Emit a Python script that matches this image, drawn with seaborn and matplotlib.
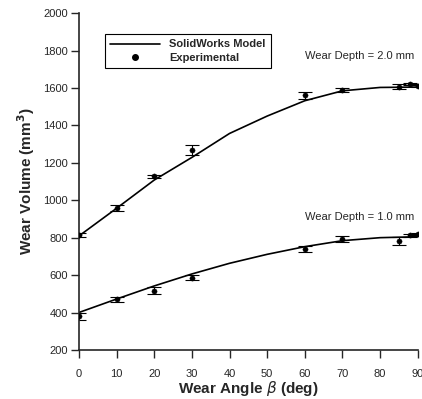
import matplotlib
matplotlib.use("Agg")
import matplotlib.pyplot as plt
from matplotlib.lines import Line2D
import seaborn as sns
import pandas as pd

sns.set_style("ticks")
plt.rcParams['font.family'] = ['Liberation Sans', 'DejaVu Sans']
plt.rcParams['mathtext.fontset'] = 'dejavusans'

# model curves (SolidWorks)
model_angle = [0, 10, 20, 30, 40, 50, 60, 70, 80, 90]
model_2mm = [809, 957, 1108, 1229, 1357, 1450, 1532, 1585, 1603, 1605]
model_1mm = [400, 472, 542, 606, 663, 711, 752, 784, 800, 805]

# experimental points
exp_angle = [0, 10, 20, 30, 60, 70, 85, 88, 90]
exp_2mm = [815, 957, 1129, 1268, 1560, 1589, 1608, 1620, 1612]
err_2mm = [12, 15, 8, 25, 20, 12, 15, 5, 8]
exp_1mm = [380, 470, 517, 586, 741, 793, 782, 812, 818]
err_1mm = [20, 15, 18, 12, 15, 18, 20, 8, 5]

model = pd.DataFrame({"angle": model_angle * 2,
                      "volume": model_2mm + model_1mm,
                      "depth": ["2.0"] * len(model_angle) + ["1.0"] * len(model_angle)})

fig = plt.figure(figsize=(4.22, 3.99), dpi=100)
ax = fig.add_axes([0.187, 0.123, 0.803, 0.844])

sns.lineplot(data=model, x="angle", y="volume", units="depth", estimator=None,
             color="black", lw=1.2, ax=ax, legend=False)

for y, e in [(exp_2mm, err_2mm), (exp_1mm, err_1mm)]:
    ax.errorbar(exp_angle, y, yerr=e, fmt="none", ecolor="black", elinewidth=0.8,
                capsize=5, capthick=0.8)
sns.scatterplot(x=exp_angle * 2, y=exp_2mm + exp_1mm, color="black", s=14,
                edgecolor="black", ax=ax, zorder=5)

ax.set_xlim(0, 90)
ax.set_ylim(200, 2000)
ax.set_xticks(range(0, 91, 10))
ax.set_yticks(range(200, 2001, 200))
ax.tick_params(labelsize=8, length=6, width=1, direction="out")
ax.tick_params(axis="x", pad=8)
ax.tick_params(axis="y", pad=2)
sns.despine(ax=ax)
for s in ["left", "bottom"]:
    ax.spines[s].set_linewidth(1.2)
ax.set_xlabel(r"Wear Angle $\beta$ (deg)", fontsize=11, fontweight="bold", labelpad=0)
ax.set_ylabel(r"Wear Volume (mm$^\mathbf{3}$)", fontsize=11, fontweight="bold", labelpad=4)

handles = [Line2D([], [], color="black", lw=1.2),
           Line2D([], [], color="black", marker="o", ls="none", markersize=4)]
leg = ax.legend(handles, ["SolidWorks Model", "Experimental"], loc="upper left",
                bbox_to_anchor=(0.06, 0.955), fancybox=False, framealpha=1,
                edgecolor="black", prop={"weight": "bold", "size": 8},
                handlelength=4.5, borderpad=0.5, labelspacing=0.3)
leg.get_frame().set_linewidth(0.8)

ax.text(0.99, 0.872, "Wear Depth = 2.0 mm", transform=ax.transAxes, ha="right",
        va="center", fontsize=8)
ax.text(0.99, 0.395, "Wear Depth = 1.0 mm", transform=ax.transAxes, ha="right",
        va="center", fontsize=8)

fig.savefig("out.png", dpi=100)
